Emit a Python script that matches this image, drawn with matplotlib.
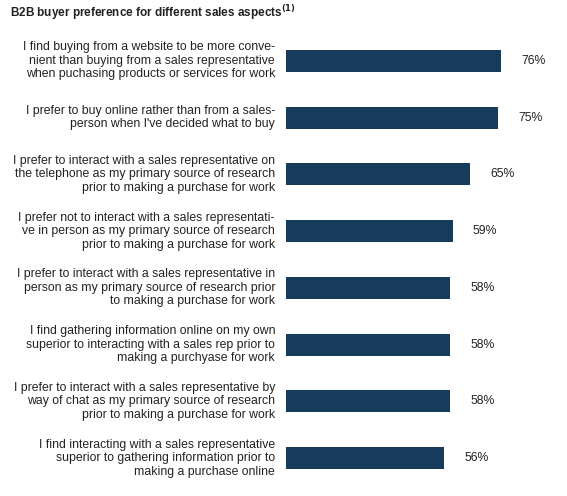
import matplotlib
matplotlib.use("Agg")
import matplotlib.pyplot as plt

plt.rcParams['font.family'] = ['Liberation Sans', 'DejaVu Sans']

labels = [
    "I find buying from a website to be more conve-\nnient than buying from a sales representative\nwhen puchasing products or services for work",
    "I prefer to buy online rather than from a sales-\nperson when I've decided what to buy",
    "I prefer to interact with a sales representative on\nthe telephone as my primary source of research\nprior to making a purchase for work",
    "I prefer not to interact with a sales representati-\nve in person as my primary source of research\nprior to making a purchase for work",
    "I prefer to interact with a sales representative in\nperson as my primary source of research prior\nto making a purchase for work",
    "I find gathering information online on my own\nsuperior to interacting with a sales rep prior to\nmaking a purchyase for work",
    "I prefer to interact with a sales representative by\nway of chat as my primary source of research\nprior to making a purchase for work",
    "I find interacting with a sales representative\nsuperior to gathering information prior to\nmaking a purchase online",
]
values = [76, 75, 65, 59, 58, 58, 58, 56]

color = "#173b5a"
fig = plt.figure(figsize=(5.67, 4.96), dpi=100)
ax = fig.add_axes([286/567, 1-486.4/496, 1-286/567, 453.8/496])
y = list(range(len(values)))
ax.barh(y, values, height=0.39, color=color)
ax.set_xlim(0, 99.3)
ax.set_ylim(len(values)-0.5, -0.5)
ax.axis('off')
for i, (v, lab) in enumerate(zip(values, labels)):
    ax.annotate(f"{v}%", xy=(v, i), xytext=(20, 0), textcoords='offset pixels',
                va='center', ha='left', fontsize=8.8, color='#222222')
    ax.annotate(lab, xy=(0, i), xytext=(-11, 0), textcoords='offset pixels',
                ha='right', va='center', fontsize=8.8, color='#222222', linespacing=1.17)
fig.text(10/567, 1-13/496, r"B2B buyer preference for different sales aspects$^{\mathbf{(1)}}$",
         fontsize=8.5, fontweight='bold', va='center', ha='left', color='#222222')
fig.savefig("out.png", dpi=100)
